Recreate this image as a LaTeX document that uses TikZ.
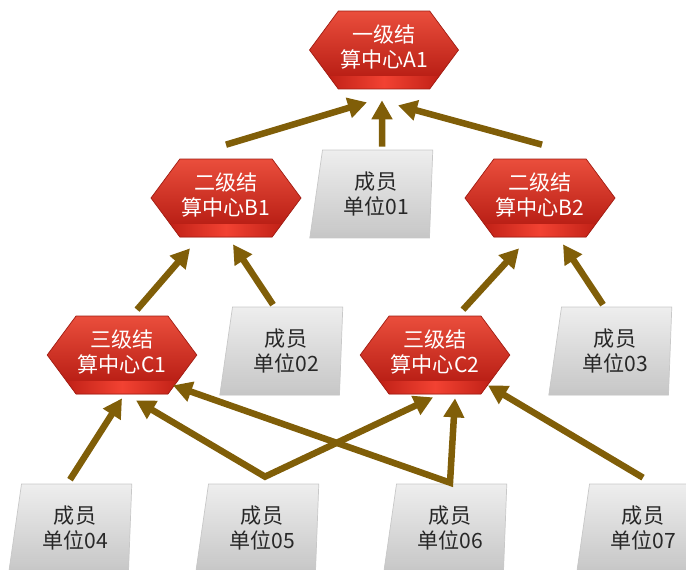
\documentclass[tikz,border=0pt]{standalone}
\usepackage{fontspec}
\setmainfont{Noto Sans CJK SC}
\usepackage{tikz}
\usetikzlibrary{shapes}
\usetikzlibrary{arrows.meta}
\definecolor{arrowbrown}{RGB}{128,94,8}
\definecolor{hexlight}{RGB}{234,78,60}
\definecolor{hexdark}{RGB}{176,22,14}
\definecolor{hexedge}{RGB}{160,28,18}
\definecolor{bandred}{RGB}{242,66,50}
\definecolor{boxlight}{RGB}{238,238,238}
\definecolor{boxdark}{RGB}{198,198,198}
\definecolor{boxedge}{RGB}{200,200,200}
\definecolor{textgray}{RGB}{40,40,40}
\newcommand{\hexlabel}[2]{\raisebox{0.12cm}{\begin{tabular}{@{}c@{}}#1\\#2\end{tabular}}}
\tikzstyle{settlehex} = [signal, signal to=east and west, signal pointer angle=107,
    minimum width=2.96cm, minimum height=1.56cm, inner sep=1pt,
    top color=hexlight, bottom color=hexdark, draw=hexedge, thin,
    text=white, font=\fontsize{12}{14}\selectfont,
    path picture={\shade [left color=hexdark, right color=hexdark, middle color=bandred]
        (path picture bounding box.south west) rectangle ([yshift=0.26cm]path picture bounding box.south east);}]
\tikzstyle{memberbox} = [trapezium, trapezium left angle=75, trapezium right angle=94,
    trapezium stretches body=true, minimum width=2.46cm, minimum height=1.76cm, inner sep=1pt,
    top color=boxlight, bottom color=boxdark, draw=boxedge, thin,
    text=textgray, align=center, font=\fontsize{12}{14}\selectfont,
    path picture={\shade [top color=gray!6, bottom color=gray!45]
        (path picture bounding box.south west) rectangle ([yshift=0.26cm]path picture bounding box.south east);}]
\tikzstyle{flow} = [line width=0.13cm, draw=arrowbrown, >={Triangle[length=0.38cm,width=0.4cm]}]

\begin{document}
\begin{tikzpicture}[x=0.02cm, y=-0.02cm]
    \useasboundingbox (0,0) rectangle (686,569);

    \node [settlehex, name=a1] at (384,50) {\hexlabel{一级结}{算中心A1}};
    \node [settlehex, name=b1] at (226,198) {\hexlabel{二级结}{算中心B1}};
    \node [settlehex, name=b2] at (540,198) {\hexlabel{二级结}{算中心B2}};
    \node [settlehex, name=c1] at (122,355) {\hexlabel{三级结}{算中心C1}};
    \node [settlehex, name=c2] at (435,355) {\hexlabel{三级结}{算中心C2}};

    \node [memberbox, name=n01] at (376,194) {成员\\单位01};
    \node [memberbox, name=n02] at (286,351) {成员\\单位02};
    \node [memberbox, name=n03] at (615,351) {成员\\单位03};
    \node [memberbox, name=n04] at (75,528) {成员\\单位04};
    \node [memberbox, name=n05] at (262,528) {成员\\单位05};
    \node [memberbox, name=n06] at (450,528) {成员\\单位06};
    \node [memberbox, name=n07] at (643,528) {成员\\单位07};

    \coordinate (j05) at ([xshift=0.06cm,yshift=0.14cm]n05.north);
    \coordinate (j06) at ([yshift=0.02cm]n06.north);

    \draw [flow, ->] ([yshift=0.28cm]b1.north) -- ([xshift=-0.34cm,yshift=-0.26cm]a1.south);
    \draw [flow, ->] ([xshift=0.12cm,yshift=0.06cm]n01.north) -- ([xshift=-0.04cm,yshift=-0.22cm]a1.south);
    \draw [flow, ->] ([xshift=0.04cm,yshift=0.28cm]b2.north) -- ([xshift=0.28cm,yshift=-0.32cm]a1.south);

    \draw [flow, ->] ([xshift=0.3cm,yshift=0.12cm]c1.north) -- ([xshift=-0.72cm,yshift=-0.22cm]b1.south);
    \draw [flow, ->] ([xshift=-0.26cm,yshift=0.04cm]n02.north) -- ([xshift=0.14cm,yshift=-0.14cm]b1.south);
    \draw [flow, ->] ([xshift=0.56cm,yshift=0.12cm]c2.north) -- ([xshift=-0.42cm,yshift=-0.22cm]b2.south);
    \draw [flow, ->] ([xshift=-0.24cm,yshift=0.04cm]n03.north) -- ([xshift=0.46cm,yshift=-0.14cm]b2.south);

    \draw [flow, ->] ([xshift=-0.1cm,yshift=0.08cm]n04.north) -- ([yshift=-0.08cm]c1.south);
    \draw [flow, <->] ([xshift=0.28cm,yshift=-0.12cm]c1.south) -- (j05) -- ([xshift=-0.04cm,yshift=-0.06cm]c2.south);
    \draw [flow, <->] ([xshift=1.02cm,yshift=0.18cm]c1.south) -- (j06) -- ([xshift=0.4cm,yshift=-0.08cm]c2.south);
    \draw [flow, ->] ([yshift=0.12cm]n07.north) -- ([xshift=1.06cm,yshift=0.18cm]c2.south);
\end{tikzpicture}
\end{document}
